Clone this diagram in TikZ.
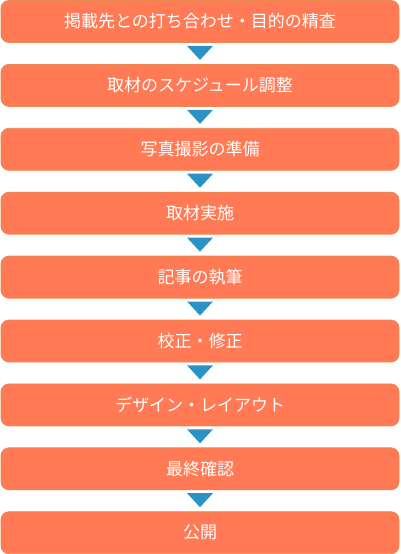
\documentclass[tikz,border=0pt]{standalone}
\usepackage{fontspec}
\newfontfamily\jpfont{Noto Sans CJK JP}
\usetikzlibrary{calc,positioning}
\definecolor{boxorange}{HTML}{FF7A55}
\definecolor{boxedge}{HTML}{E98A50}
\definecolor{arrowblue}{HTML}{2B92C4}
\newcommand{\steparrow}[1]{\fill[arrowblue] ($(#1.south)+(-13pt,-3pt)$)--($(#1.south)+(13pt,-3pt)$)--($(#1.south)+(0,-17pt)$)--cycle;}

\begin{document}
\begin{tikzpicture}[
    stepbox/.style={rectangle,rounded corners=8pt,fill=boxorange,draw=boxedge,line width=.8pt,
      minimum width=398pt,minimum height=42pt,inner sep=0pt,text=white,
      font=\jpfont\fontsize{17}{20}\selectfont},
    node distance=21.1pt]
      \useasboundingbox (0,0) rectangle (400pt,-554pt);
      % steps
      \node[stepbox] (meet) at (200pt,-21.5pt) {掲載先との打ち合わせ・目的の精査};
      \node[stepbox,below=of meet] (plan) {取材のスケジュール調整};
      \node[stepbox,below=of plan] (photo) {写真撮影の準備};
      \node[stepbox,below=of photo] (interview) {取材実施};
      \node[stepbox,below=of interview] (write) {記事の執筆};
      \node[stepbox,below=of write] (proof) {校正・修正};
      \node[stepbox,below=of proof] (design) {デザイン・レイアウト};
      \node[stepbox,below=of design] (check) {最終確認};
      \node[stepbox,below=of check] (publish) {公開};
      % arrows
      \steparrow{meet}
      \steparrow{plan}
      \steparrow{photo}
      \steparrow{interview}
      \steparrow{write}
      \steparrow{proof}
      \steparrow{design}
      \steparrow{check}
\end{tikzpicture}
\end{document}
